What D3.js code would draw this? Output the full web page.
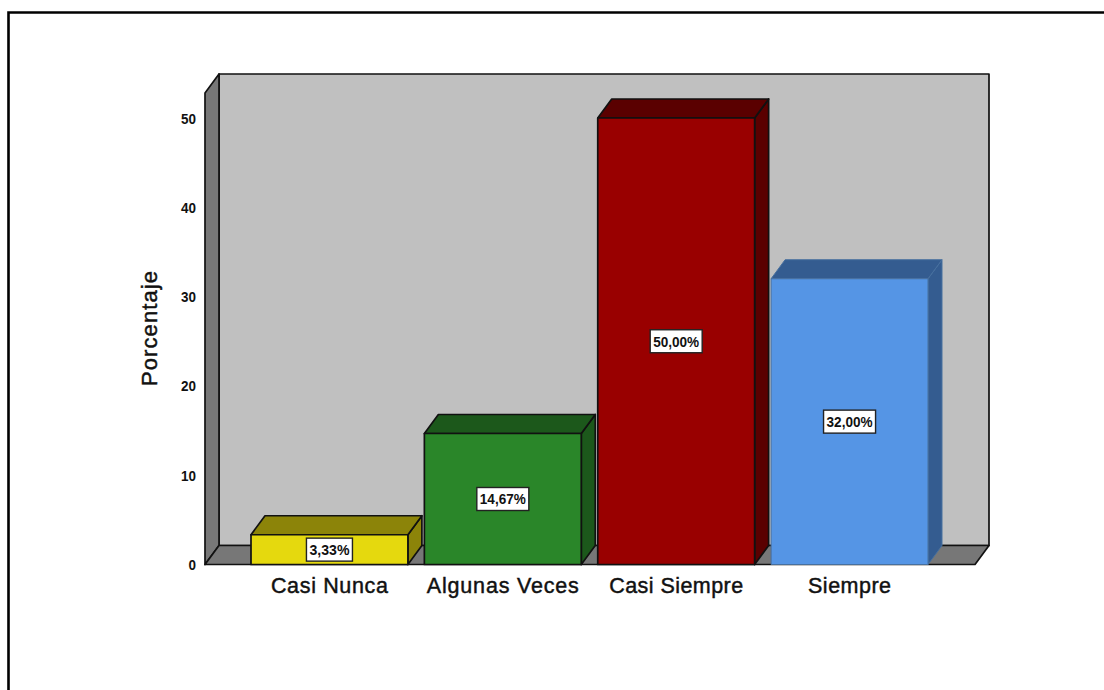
<!DOCTYPE html>
<html><head><meta charset="utf-8">
<script src="https://cdnjs.cloudflare.com/ajax/libs/d3/7.8.5/d3.min.js"></script>
<style>html,body{margin:0;padding:0;background:#fff}svg{display:block}text{font-family:"Liberation Sans",Arial,sans-serif}</style>
</head><body><svg id="c" width="1104" height="690"></svg>
<script>
const categories = ["Casi Nunca","Algunas Veces","Casi Siempre","Siempre"];
const percentages = [3.33,14.67,50,32];
const valueLabels = ["3,33%","14,67%","50,00%","32,00%"];
const frontColors = ["#e5d90e","#2a8629","#990000","#5595e5"];
const sideColors = ["#8c8409","#1c581b","#5a0000","#345c90"];
const edgeColors = ["#111","#111","#111","#47709f"];
const yTicks = [0,10,20,30,40,50];
const yTitle = "Porcentaje";
const categoryWidths = [117,152,134,83];

const dx = 14, dy = -19;
const svg = d3.select("#c");
const x = d3.scaleBand().domain(categories).range([251,928]).paddingInner(0.095).paddingOuter(0);
const y = d3.scaleLinear().domain([0,50]).range([564.5,118]);
const wallLeft = 205, wallRight = 975, wallTop = 93, base = y(0);

svg.append("path").attr("d","M8.5,690V12.5H1104").attr("fill","none").attr("stroke","#000").attr("stroke-width",2.6);

const poly = (pts,fill,edge="#111",sw=1.7)=>svg.append("polygon").attr("points",pts.map(p=>p.join(",")).join(" "))
  .attr("fill",fill).attr("stroke",edge).attr("stroke-width",sw).attr("stroke-linejoin","round");

poly([[wallLeft+dx,wallTop+dy],[wallRight+dx,wallTop+dy],[wallRight+dx,base+dy],[wallLeft+dx,base+dy]],"#c0c0c0");
poly([[wallLeft,wallTop],[wallLeft+dx,wallTop+dy],[wallLeft+dx,base+dy],[wallLeft,base]],"#777");
poly([[wallLeft,base],[wallLeft+dx,base+dy],[wallRight+dx,base+dy],[wallRight,base]],"#777");

categories.forEach((c,i)=>{
  const l = x(c), r = l+x.bandwidth(), t = y(percentages[i]);
  const sw = i===3?1:1.7;
  poly([[r,t],[r+dx,t+dy],[r+dx,base+dy],[r,base]],sideColors[i],edgeColors[i],sw);
  poly([[l,t],[l+dx,t+dy],[r+dx,t+dy],[r,t]],sideColors[i],edgeColors[i],sw);
  poly([[l,t],[r,t],[r,base],[l,base]],frontColors[i],edgeColors[i],sw);
  const cx = (l+r)/2, cy = (t+base)/2;
  const w = valueLabels[i].length===5?46:52, h = 23;
  svg.append("rect").attr("x",cx-w/2).attr("y",cy-h/2).attr("width",w).attr("height",h)
    .attr("fill","#fff").attr("stroke","#222").attr("stroke-width",1.4);
  svg.append("text").attr("x",cx).attr("y",cy+5.5).attr("text-anchor","middle")
    .attr("font-size",15.5).attr("font-weight","bold").attr("fill","#111").attr("textLength",w-6).attr("lengthAdjust","spacingAndGlyphs").text(valueLabels[i]);
  svg.append("text").attr("x",cx).attr("y",593).attr("text-anchor","middle")
    .attr("font-size",21.5).attr("fill","#111").attr("stroke","#111").attr("stroke-width",0.45)
    .attr("textLength",categoryWidths[i]).attr("lengthAdjust","spacing").text(c);
});

yTicks.forEach(v=>{
  svg.append("text").attr("x",196).attr("y",y(v)+5.5).attr("text-anchor","end")
    .attr("font-size",15.5).attr("font-weight","bold").attr("fill","#111").attr("textLength",String(v).length*7.5).attr("lengthAdjust","spacingAndGlyphs").text(v);
});
svg.append("text").attr("transform","translate(157,328.5) rotate(-90)").attr("text-anchor","middle")
  .attr("font-size",22).attr("fill","#111").attr("stroke","#111").attr("stroke-width",0.45)
  .attr("textLength",115).attr("lengthAdjust","spacing").text(yTitle);
</script></body></html>
